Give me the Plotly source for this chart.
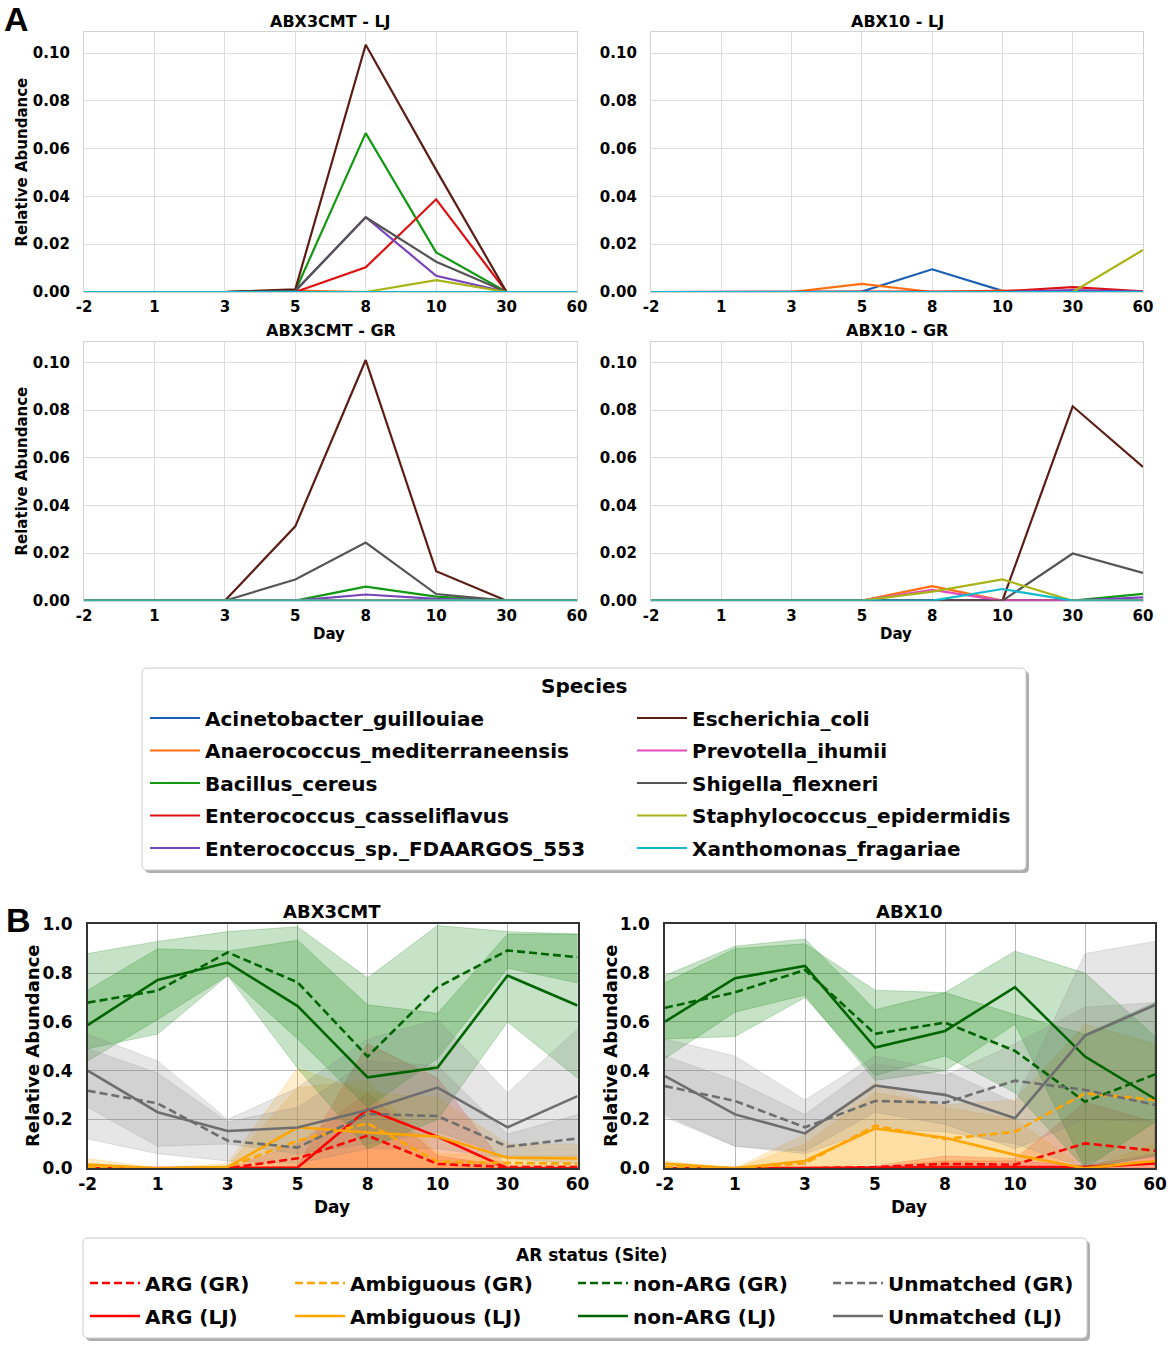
import plotly.graph_objects as go

# ---------------------------------------------------------------- data --- #

W, H = 1170, 1347

DAYS = ["-2", "1", "3", "5", "8", "10", "30", "60"]

SPECIES = ["Acinetobacter_guillouiae", "Anaerococcus_mediterraneensis", "Bacillus_cereus",
           "Enterococcus_casseliflavus", "Enterococcus_sp._FDAARGOS_553", "Escherichia_coli",
           "Prevotella_ihumii", "Shigella_flexneri", "Staphylococcus_epidermidis",
           "Xanthomonas_fragariae"]
SPECIES_COLORS = ["#1a5fb4", "#ff6f0f", "#129912", "#dd1111", "#7744bb",
                  "#5c1e14", "#e24cbd", "#555555", "#aab316", "#12bacd"]

# relative abundance per species (same order as SPECIES), one list per day
abx3cmt_lj = [
    [0, 0, 0, 0, 0, 0, 0, 0],
    [0, 0, 0, 0.0006, 0, 0, 0, 0],
    [0, 0, 0, 0.0004, 0.0665, 0.0166, 0, 0],
    [0, 0, 0, 0, 0.0103, 0.0388, 0, 0],
    [0, 0, 0, 0.0004, 0.0313, 0.0068, 0, 0],
    [0, 0, 0, 0.0011, 0.1035, 0.0511, 0, 0],
    [0, 0, 0, 0, 0, 0, 0, 0],
    [0, 0, 0, 0.0005, 0.0313, 0.0127, 0, 0],
    [0, 0, 0, 0, 0, 0.005, 0, 0],
    [0, 0, 0, 0, 0, 0, 0, 0],
]
abx10_lj = [
    [0, 0, 0, 0.0002, 0.0095, 0.0005, 0, 0],
    [0, 0, 0, 0.0034, 0, 0.0006, 0.0003, 0],
    [0, 0, 0, 0, 0, 0, 0, 0],
    [0, 0, 0, 0, 0, 0.0003, 0.002, 0.0003],
    [0, 0, 0, 0, 0, 0, 0.0008, 0.0002],
    [0, 0, 0, 0, 0, 0, 0, 0],
    [0, 0, 0, 0, 0, 0, 0, 0],
    [0, 0, 0, 0, 0, 0, 0, 0],
    [0, 0, 0, 0, 0, 0, 0, 0.0176],
    [0, 0, 0, 0, 0, 0, 0, 0],
]
abx3cmt_gr = [
    [0, 0, 0, 0, 0, 0, 0, 0],
    [0, 0, 0, 0, 0, 0, 0, 0],
    [0, 0, 0, 0, 0.0059, 0.0017, 0, 0],
    [0, 0, 0, 0, 0, 0, 0, 0],
    [0, 0, 0, 0, 0.0026, 0.0008, 0, 0],
    [0, 0, 0, 0.0312, 0.101, 0.0124, 0, 0],
    [0, 0, 0, 0, 0, 0, 0, 0],
    [0, 0, 0, 0.0089, 0.0244, 0.0028, 0, 0],
    [0, 0, 0, 0, 0, 0, 0, 0],
    [0, 0, 0, 0, 0, 0, 0, 0],
]
abx10_gr = [
    [0, 0, 0, 0, 0.0003, 0, 0, 0],
    [0, 0, 0, 0, 0.0061, 0, 0, 0],
    [0, 0, 0, 0, 0, 0, 0, 0.0029],
    [0, 0, 0, 0, 0, 0, 0, 0],
    [0, 0, 0, 0, 0, 0, 0, 0.0014],
    [0, 0, 0, 0, 0, 0, 0.0816, 0.0561],
    [0, 0, 0, 0, 0.0045, 0, 0, 0],
    [0, 0, 0, 0, 0, 0, 0.0198, 0.0117],
    [0, 0, 0, 0, 0.0038, 0.0089, 0, 0],
    [0, 0, 0, 0, 0, 0.0049, 0, 0],
]

AR_LABELS = ["ARG (GR)", "ARG (LJ)", "Ambiguous (GR)", "Ambiguous (LJ)",
             "non-ARG (GR)", "non-ARG (LJ)", "Unmatched (GR)", "Unmatched (LJ)"]
AR_LINE_COLORS = ["#ff0000", "#ff0000", "#ffa500", "#ffa500",
                  "#006400", "#006400", "#6e6e6e", "#6e6e6e"]
AR_FILL_COLORS = ["rgba(255,0,0,0.2)", "rgba(255,0,0,0.2)",
                  "rgba(255,165,0,0.2)", "rgba(255,165,0,0.2)",
                  "rgba(0,128,0,0.22)", "rgba(0,128,0,0.22)",
                  "rgba(128,128,128,0.2)", "rgba(128,128,128,0.2)"]

# mean / low / high per AR status, ABX3CMT
abx3cmt_mean = [
    [0, 0, 0, 0.041, 0.134, 0.018, 0.005, 0.005],
    [0, 0, 0, 0.003, 0.242, 0.13, 0, 0],
    [0.005, 0, 0.005, 0.113, 0.184, 0.027, 0.022, 0.019],
    [0.015, 0, 0.005, 0.168, 0.147, 0.13, 0.043, 0.04],
    [0.679, 0.728, 0.885, 0.762, 0.458, 0.742, 0.893, 0.865],
    [0.587, 0.772, 0.843, 0.665, 0.373, 0.413, 0.79, 0.667],
    [0.318, 0.266, 0.113, 0.085, 0.223, 0.214, 0.089, 0.122],
    [0.40, 0.23, 0.153, 0.167, 0.239, 0.331, 0.168, 0.296],
]
abx3cmt_low = [
    [0, 0, 0, 0, 0, 0, 0, 0],
    [0, 0, 0, 0, 0, 0, 0, 0],
    [0, 0, 0, 0, 0, 0, 0, 0],
    [0, 0, 0, 0, 0, 0, 0, 0],
    [0.49, 0.55, 0.79, 0.53, 0.25, 0.45, 0.82, 0.76],
    [0.44, 0.61, 0.79, 0.41, 0.08, 0.20, 0.60, 0.37],
    [0.12, 0.06, 0.03, 0.02, 0.08, 0.08, 0.04, 0.02],
    [0.25, 0.09, 0.10, 0.06, 0.10, 0.15, 0.05, 0.05],
]
abx3cmt_high = [
    [0, 0, 0, 0.10, 0.31, 0.05, 0.01, 0.01],
    [0, 0, 0, 0.01, 0.51, 0.37, 0, 0],
    [0.02, 0, 0.01, 0.33, 0.36, 0.06, 0.05, 0.05],
    [0.04, 0, 0.02, 0.41, 0.31, 0.29, 0.10, 0.10],
    [0.88, 0.93, 0.97, 0.99, 0.78, 0.995, 0.97, 0.96],
    [0.73, 0.90, 0.89, 0.935, 0.67, 0.635, 0.96, 0.96],
    [0.49, 0.39, 0.19, 0.25, 0.44, 0.42, 0.14, 0.22],
    [0.55, 0.44, 0.20, 0.33, 0.53, 0.61, 0.31, 0.57],
]

# mean / low / high per AR status, ABX10
abx10_mean = [
    [0, 0, 0, 0.005, 0.018, 0.015, 0.102, 0.072],
    [0, 0, 0, 0.002, 0.005, 0.005, 0.005, 0.02],
    [0.005, 0, 0.02, 0.175, 0.12, 0.15, 0.307, 0.28],
    [0.018, 0, 0.03, 0.163, 0.125, 0.055, 0, 0.03],
    [0.658, 0.721, 0.813, 0.551, 0.597, 0.481, 0.273, 0.385],
    [0.601, 0.779, 0.829, 0.495, 0.563, 0.742, 0.458, 0.284],
    [0.337, 0.276, 0.168, 0.276, 0.269, 0.359, 0.321, 0.26],
    [0.378, 0.221, 0.143, 0.339, 0.301, 0.205, 0.544, 0.669],
]
abx10_low = [
    [0, 0, 0, 0, 0, 0, 0, 0],
    [0, 0, 0, 0, 0, 0, 0, 0],
    [0, 0, 0, 0.02, 0.02, 0.03, 0.03, 0.06],
    [0, 0, 0, 0, 0, 0, 0, 0],
    [0.53, 0.54, 0.70, 0.38, 0.46, 0.31, 0.0, 0.19],
    [0.45, 0.64, 0.71, 0.36, 0.40, 0.59, 0.0, 0.05],
    [0.21, 0.09, 0.06, 0.16, 0.15, 0.10, 0.0, 0.05],
    [0.22, 0.09, 0.07, 0.23, 0.18, 0.08, 0.20, 0.19],
]
abx10_high = [
    [0, 0, 0, 0.01, 0.05, 0.04, 0.27, 0.19],
    [0, 0, 0, 0.005, 0.03, 0.03, 0.01, 0.06],
    [0.01, 0, 0.10, 0.31, 0.26, 0.28, 0.59, 0.51],
    [0.03, 0, 0.14, 0.35, 0.25, 0.20, 0, 0.10],
    [0.76, 0.90, 0.92, 0.73, 0.72, 0.63, 0.55, 0.68],
    [0.79, 0.91, 0.94, 0.65, 0.72, 0.89, 0.80, 0.54],
    [0.46, 0.36, 0.22, 0.43, 0.38, 0.51, 0.66, 0.68],
    [0.53, 0.46, 0.28, 0.46, 0.40, 0.27, 0.88, 0.93],
]

# -------------------------------------------------------------- helpers --- #

FONT = "DejaVu Sans"


def px(x):
    # pixel -> paper fraction
    return x / W


def py(y):
    return 1 - y / H


def bold(size):
    return dict(family=FONT, size=size, color="black", weight="bold")


def rounded_box(x0, y0, x1, y1, r):
    """SVG path (paper coords) of a rounded rectangle given in pixels"""
    pts = [("M", x0 + r, y0), ("L", x1 - r, y0), ("Q", x1, y0, x1, y0 + r),
           ("L", x1, y1 - r), ("Q", x1, y1, x1 - r, y1), ("L", x0 + r, y1),
           ("Q", x0, y1, x0, y1 - r), ("L", x0, y0 + r), ("Q", x0, y0, x0 + r, y0)]
    path = ""
    for p in pts:
        coords = p[1:]
        parts = []
        for i in range(0, len(coords), 2):
            parts.append(f"{px(coords[i]):.5f},{py(coords[i + 1]):.5f}")
        path += p[0] + " ".join(parts) + " "
    return path + "Z"


fig = go.Figure()

# ------------------------------------------------------------- panel A --- #

panels_a = [abx3cmt_lj, abx10_lj, abx3cmt_gr, abx10_gr]
for k, panel in enumerate(panels_a):
    for i, name in enumerate(SPECIES):
        fig.add_trace(go.Scatter(
            x=DAYS, y=panel[i],
            mode="lines",
            name=name,
            line=dict(color=SPECIES_COLORS[i], width=2.2),
            xaxis=f"x{k + 1}", yaxis=f"y{k + 1}",
            legend="legend" if i < 5 else "legend2",
            legendgroup=name,
            showlegend=(k == 0),
        ))

# ------------------------------------------------------------- panel B --- #

panels_b = [(abx3cmt_mean, abx3cmt_low, abx3cmt_high), (abx10_mean, abx10_low, abx10_high)]
for k, (mean, low, high) in enumerate(panels_b):
    ax = 5 + k
    for j, label in enumerate(AR_LABELS):
        fig.add_trace(go.Scatter(
            x=DAYS + DAYS[::-1],
            y=high[j] + low[j][::-1],
            mode="lines",
            fill="toself",
            fillcolor=AR_FILL_COLORS[j],
            line=dict(color=AR_FILL_COLORS[j], width=1),
            xaxis=f"x{ax}", yaxis=f"y{ax}",
            legendgroup=label,
            showlegend=False,
            hoverinfo="skip",
        ))
for k, (mean, low, high) in enumerate(panels_b):
    ax = 5 + k
    for j, label in enumerate(AR_LABELS):
        fig.add_trace(go.Scatter(
            x=DAYS, y=mean[j],
            mode="lines",
            name=label,
            line=dict(color=AR_LINE_COLORS[j], width=2.6,
                      dash="8px,4px" if "GR" in label else "solid"),
            xaxis=f"x{ax}", yaxis=f"y{ax}",
            legend=f"legend{3 + j // 2}",
            legendgroup=label,
            showlegend=(k == 0),
        ))

# ---------------------------------------------------------------- axes --- #

A_COLS = [(84, 577), (651, 1143)]
A_ROWS = [(32.3, 292), (341.7, 600.7)]
B_COLS = [(87.7, 577.5), (665, 1155)]
B_ROW = (924.3, 1168.3)

layout_axes = {}
for k in range(4):
    c0, c1 = A_COLS[k % 2]
    r0, r1 = A_ROWS[k // 2]
    sfx = "" if k == 0 else str(k + 1)
    layout_axes[f"xaxis{sfx}"] = dict(
        domain=[px(c0), px(c1)], anchor=f"y{k + 1}",
        type="category", categoryorder="array", categoryarray=DAYS, range=[0, 7],
        showgrid=True, gridcolor="#dddddd", gridwidth=1,
        showline=True, linecolor="#d2d2d2", linewidth=1.3, mirror=True,
        ticks="", tickfont=bold(15), ticklabelstandoff=1, zeroline=False,
    )
    layout_axes[f"yaxis{k + 1}"] = dict(
        domain=[py(r1), py(r0)], anchor=f"x{k + 1}",
        range=[0, 0.1087], tickvals=[0, 0.02, 0.04, 0.06, 0.08, 0.10], tickformat=".2f",
        showgrid=True, gridcolor="#dddddd", gridwidth=1,
        showline=True, linecolor="#d2d2d2", linewidth=1.3, mirror=True,
        ticks="", tickfont=bold(15), ticklabelstandoff=10, zeroline=False,
    )
for k in range(2):
    c0, c1 = B_COLS[k]
    r0, r1 = B_ROW
    layout_axes[f"xaxis{5 + k}"] = dict(
        domain=[px(c0), px(c1)], anchor=f"y{5 + k}",
        type="category", categoryorder="array", categoryarray=DAYS, range=[0, 7],
        showgrid=True, gridcolor="#b8b8b8", gridwidth=1,
        showline=True, linecolor="#333333", linewidth=1.5, mirror=True,
        ticks="", tickfont=bold(17), ticklabelstandoff=0, zeroline=False,
    )
    layout_axes[f"yaxis{5 + k}"] = dict(
        domain=[py(r1), py(r0)], anchor=f"x{5 + k}",
        range=[0, 1], tickvals=[0, 0.2, 0.4, 0.6, 0.8, 1.0], tickformat=".1f",
        showgrid=True, gridcolor="#b8b8b8", gridwidth=1,
        showline=True, linecolor="#333333", linewidth=1.5, mirror=True,
        ticks="", tickfont=bold(17), ticklabelstandoff=10, zeroline=False,
    )

# --------------------------------------------------------- annotations --- #

texts = [
    ("A", 16, 19, 34, 0),
    ("B", 18, 920, 34, 0),
    ("ABX3CMT - LJ", 330.5, 22, 16, 0),
    ("ABX10 - LJ", 897, 22, 16, 0),
    ("ABX3CMT - GR", 330.5, 330.5, 16, 0),
    ("ABX10 - GR", 897, 330.5, 16, 0),
    ("Relative Abundance", 21.5, 162, 15, -90),
    ("Relative Abundance", 21.5, 471, 15, -90),
    ("Day", 329, 634, 15, 0),
    ("Day", 896, 634, 15, 0),
    ("ABX3CMT", 332, 911.5, 18, 0),
    ("ABX10", 909, 911.5, 18, 0),
    ("Relative Abundance", 32, 1046, 18, -90),
    ("Relative Abundance", 610, 1046, 18, -90),
    ("Day", 332, 1207, 17, 0),
    ("Day", 909, 1207, 17, 0),
    ("Species", 584, 686, 20, 0),
    ("AR status (Site)", 591, 1255, 17, 0),
]
annotations = []
for text, x, y, size, angle in texts:
    annotations.append(dict(
        text=text, x=px(x), y=py(y), xref="paper", yref="paper",
        xanchor="center", yanchor="middle", showarrow=False,
        textangle=angle, font=bold(size),
    ))
annotations[0]["font"]["family"] = "Liberation Sans"
annotations[1]["font"]["family"] = "Liberation Sans"

# ------------------------------------------------------- legend boxes --- #

shapes = []
for (x0, y0, x1, y1) in [(142, 668, 1026, 870), (83, 1238, 1087, 1338)]:
    shapes.append(dict(type="path", xref="paper", yref="paper", layer="below",
                       path=rounded_box(x0 + 3, y0 + 3, x1 + 3, y1 + 3, 5),
                       fillcolor="rgba(120,120,120,0.6)", line=dict(width=0)))
    shapes.append(dict(type="path", xref="paper", yref="paper", layer="below",
                       path=rounded_box(x0, y0, x1, y1, 5),
                       fillcolor="white", line=dict(color="#cccccc", width=1)))


def legend_at(x, y_top, gap):
    return dict(
        x=px(x), y=py(y_top), xref="paper", yref="paper",
        xanchor="left", yanchor="top", orientation="v",
        bgcolor="rgba(0,0,0,0)", borderwidth=0,
        font=bold(20), itemwidth=50, tracegroupgap=gap,
    )


fig.update_layout(
    width=W, height=H,
    template="none",
    margin=dict(l=0, r=0, t=0, b=0),
    paper_bgcolor="white", plot_bgcolor="white",
    annotations=annotations,
    shapes=shapes,
    legend=legend_at(145, 698.5, 3.5),
    legend2=legend_at(632, 698.5, 3.5),
    legend3=legend_at(85, 1263.5, 4),
    legend4=legend_at(290, 1263.5, 4),
    legend5=legend_at(573, 1263.5, 4),
    legend6=legend_at(828, 1263.5, 4),
    **layout_axes,
)

# drop the default page margin so the figure fills the window exactly
fig.write_html("out.html", config={"displayModeBar": False},
               post_script="document.body.style.margin = '0';")
